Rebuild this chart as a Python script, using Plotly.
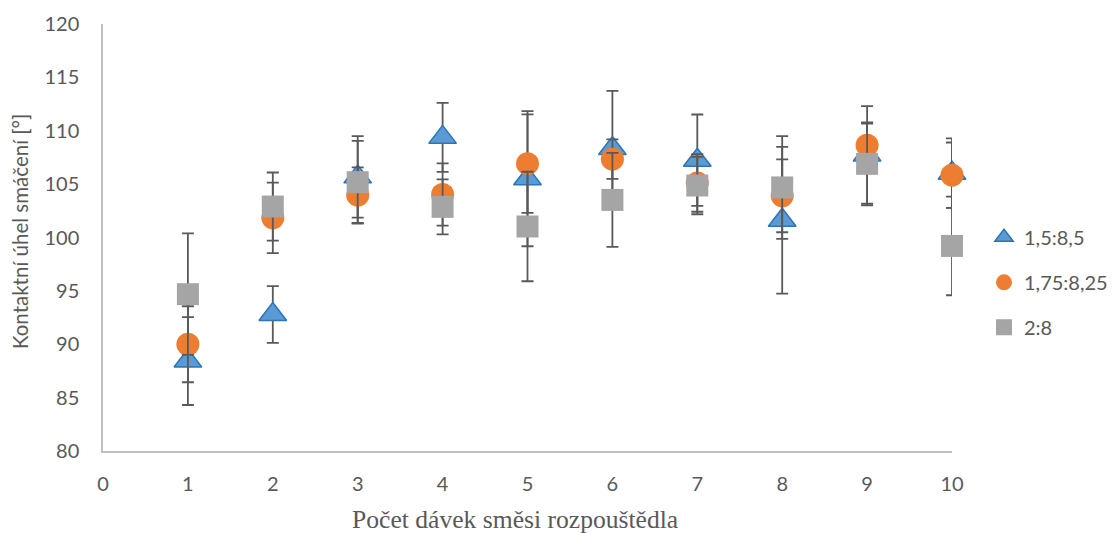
import plotly.graph_objects as go

x_vals = [1, 2, 3, 4, 5, 6, 7, 8, 9, 10]

series_names = ["1,5:8,5", "1,75:8,25", "2:8"]

blue_y = [88.43, 92.78, 105.68, 109.38, 105.51, 108.34, 107.24, 101.62, 107.74, 106.03]
blue_err = [4.12, 2.66, 3.81, 3.23, 6.33, 5.40, 4.28, 6.87, 4.56, 3.25]

orange_y = [90.0, 101.84, 103.96, 104.03, 106.92, 107.34, 105.11, 103.90, 108.65, 105.84]
orange_err = [3.56, 3.30, 2.60, 2.91, 4.61, 1.85, 2.70, 3.41, 2.03, 3.06]

gray_y = [94.69, 102.90, 105.18, 102.87, 101.03, 103.52, 104.87, 104.69, 106.90, 99.21]
gray_err = [5.69, 3.19, 3.87, 2.57, 5.13, 4.40, 2.69, 4.81, 3.88, 4.62]

x_ticks = [0, 1, 2, 3, 4, 5, 6, 7, 8, 9, 10]
y_ticks = [80, 85, 90, 95, 100, 105, 110, 115, 120]

x_title = "Počet dávek směsi rozpouštědla"
y_title = "Kontaktní úhel smáčení [°]"

ERR_COLOR = "#595959"
TEXT_COLOR = "#595959"
AXIS_COLOR = "#BFBFBF"
SANS = "Lato, 'Open Sans', sans-serif"
SERIF = "'Liberation Serif', 'DejaVu Serif', serif"

fig = go.Figure()

styles = [
    (blue_y, blue_err, dict(symbol="triangle-up", size=24, color="#5B9BD5",
                            line=dict(color="#2E75B6", width=1.5))),
    (orange_y, orange_err, dict(symbol="circle", size=23, color="#ED7D31",
                                line=dict(color="#ED7D31", width=0))),
    (gray_y, gray_err, dict(symbol="square", size=22, color="#A5A5A5",
                            line=dict(color="#A5A5A5", width=0))),
]

for i, (name, (yv, ev, mk)) in enumerate(zip(series_names, styles)):
    fig.add_trace(go.Scatter(
        x=x_vals, y=yv, name=name, mode="markers",
        marker=mk,
        error_y=dict(type="data", array=ev, visible=True,
                     color=ERR_COLOR, thickness=1.8, width=6),
        cliponaxis=False,
        legendgroup=f"g{i}",
    ))

fig.update_layout(
    width=1117, height=533,
    paper_bgcolor="white", plot_bgcolor="white",
    margin=dict(l=103, r=165, t=24, b=82, pad=0, autoexpand=False),
    font=dict(family=SANS, size=20, color=TEXT_COLOR),
    showlegend=True,
    legend=dict(
        x=1.0377, y=0.395, xanchor="left", yanchor="middle",
        font=dict(family=SANS, size=20, color=TEXT_COLOR),
        tracegroupgap=16, itemwidth=30,
        bgcolor="rgba(0,0,0,0)",
    ),
    xaxis=dict(
        range=[0, 10], tickvals=x_ticks, ticktext=[str(t) for t in x_ticks],
        showgrid=False, zeroline=False,
        showline=True, linecolor=AXIS_COLOR, linewidth=1.5,
        ticks="outside", ticklen=14, tickcolor="rgba(0,0,0,0)",
        tickfont=dict(family=SANS, size=20, color=TEXT_COLOR),
    ),
    yaxis=dict(
        range=[80, 120], tickvals=y_ticks, ticktext=[str(t) for t in y_ticks],
        showgrid=False, zeroline=False,
        showline=True, linecolor=AXIS_COLOR, linewidth=1.5,
        ticks="outside", ticklen=18, tickcolor="rgba(0,0,0,0)",
        tickfont=dict(family=SANS, size=20, color=TEXT_COLOR),
    ),
    annotations=[
        dict(text=x_title, xref="paper", yref="paper", x=0.4853, y=-0.160,
             xanchor="center", yanchor="middle", showarrow=False,
             font=dict(family=SERIF, size=25.6, color=TEXT_COLOR)),
        dict(text=y_title, xref="paper", yref="paper", x=-0.0978, y=0.515,
             xanchor="center", yanchor="middle", showarrow=False, textangle=-90,
             font=dict(family=SANS, size=20.5, color=TEXT_COLOR)),
    ],
)

# remove the default 8px page margin so the figure fills the window exactly
fig.write_html("out.html",
               config={"displayModeBar": False},
               post_script="document.body.style.margin='0';document.body.style.overflow='hidden';")
